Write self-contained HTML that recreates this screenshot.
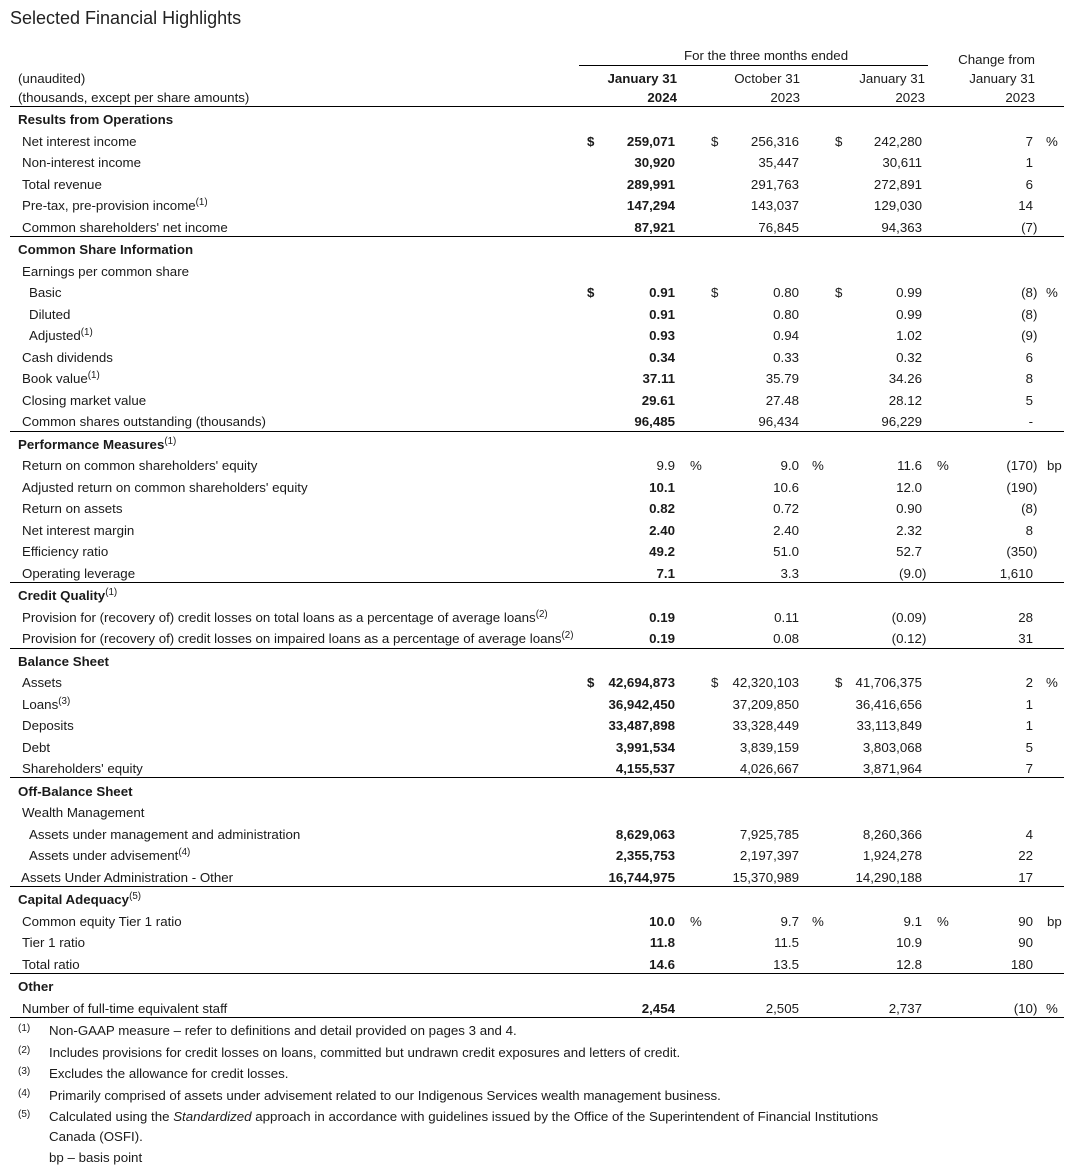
<!DOCTYPE html>
<html><head><meta charset="utf-8">
<style>
html,body{margin:0;padding:0}
body{width:1070px;height:1170px;position:relative;background:#fff;font-family:"Liberation Sans",Arial,sans-serif;font-size:13.3px;color:#1a1a1a;overflow:hidden}
.t{position:absolute;left:10px;top:7px;font-size:18px;line-height:22px;white-space:nowrap;color:#222}
.r{position:absolute;left:0;width:1070px;height:16px;line-height:16px;margin-top:1px}
.r span{position:absolute;top:0;white-space:nowrap}
.h{left:18px;font-weight:bold}
.l{left:22px}
.i{left:29px}
.d1{left:587px;font-weight:bold}
.c1{right:395px;font-weight:bold}
.p1{left:690px}
.d2{left:711px}
.c2{right:271px}
.p2{left:812px}
.d3{left:835px}
.c3{right:148px}
.p3{left:937px}
.c4{right:37px}
.p4{left:1046px}
.n{margin-right:-4.4px}
.hr{position:absolute;left:10px;width:1054px;height:1px;background:#000}
sup{font-size:9.8px;line-height:0;position:relative;top:0px;font-weight:normal}
.fm{position:absolute;left:18px;font-size:10px;line-height:12px;white-space:nowrap;margin-top:2px}
.ft{position:absolute;left:49px;line-height:16px;white-space:nowrap;margin-top:1px}
</style></head><body>
<div class="t">Selected Financial Highlights</div>

<div class="r" style="top:47px"><span style="left:684px">For the three months ended</span></div>
<div style="position:absolute;left:579px;top:65px;width:349px;height:1px;background:#000"></div>
<div class="r" style="top:51px"><span style="right:35px">Change from</span></div>
<div class="r" style="top:70px"><span style="left:18px">(unaudited)</span><span style="right:393px;font-weight:bold">January 31</span><span style="right:270px">October 31</span><span style="right:145px">January 31</span><span style="right:35px">January 31</span></div>
<div class="r" style="top:89px"><span style="left:18px">(thousands, except per share amounts)</span><span style="right:393px;font-weight:bold">2024</span><span style="right:270px">2023</span><span style="right:145px">2023</span><span style="right:35px">2023</span></div>
<div class="hr" style="top:106px"></div>

<div class="r" style="top:111px"><span class="h">Results from Operations</span></div>
<div class="r" style="top:133px"><span class="l">Net interest income</span><span class="d1">$</span><span class="c1">259,071</span><span class="d2">$</span><span class="c2">256,316</span><span class="d3">$</span><span class="c3">242,280</span><span class="c4">7</span><span class="p4">%</span></div>
<div class="r" style="top:154px"><span class="l">Non-interest income</span><span class="c1">30,920</span><span class="c2">35,447</span><span class="c3">30,611</span><span class="c4">1</span></div>
<div class="r" style="top:176px"><span class="l">Total revenue</span><span class="c1">289,991</span><span class="c2">291,763</span><span class="c3">272,891</span><span class="c4">6</span></div>
<div class="r" style="top:197px"><span class="l">Pre-tax, pre-provision income<sup>(1)</sup></span><span class="c1">147,294</span><span class="c2">143,037</span><span class="c3">129,030</span><span class="c4">14</span></div>
<div class="r" style="top:219px"><span class="l">Common shareholders' net income</span><span class="c1">87,921</span><span class="c2">76,845</span><span class="c3">94,363</span><span class="c4 n">(7)</span></div>
<div class="hr" style="top:236px"></div>

<div class="r" style="top:241px"><span class="h">Common Share Information</span></div>
<div class="r" style="top:263px"><span class="l">Earnings per common share</span></div>
<div class="r" style="top:284px"><span class="i">Basic</span><span class="d1">$</span><span class="c1">0.91</span><span class="d2">$</span><span class="c2">0.80</span><span class="d3">$</span><span class="c3">0.99</span><span class="c4 n">(8)</span><span class="p4">%</span></div>
<div class="r" style="top:306px"><span class="i">Diluted</span><span class="c1">0.91</span><span class="c2">0.80</span><span class="c3">0.99</span><span class="c4 n">(8)</span></div>
<div class="r" style="top:327px"><span class="i">Adjusted<sup>(1)</sup></span><span class="c1">0.93</span><span class="c2">0.94</span><span class="c3">1.02</span><span class="c4 n">(9)</span></div>
<div class="r" style="top:349px"><span class="l">Cash dividends</span><span class="c1">0.34</span><span class="c2">0.33</span><span class="c3">0.32</span><span class="c4">6</span></div>
<div class="r" style="top:370px"><span class="l">Book value<sup>(1)</sup></span><span class="c1">37.11</span><span class="c2">35.79</span><span class="c3">34.26</span><span class="c4">8</span></div>
<div class="r" style="top:392px"><span class="l">Closing market value</span><span class="c1">29.61</span><span class="c2">27.48</span><span class="c3">28.12</span><span class="c4">5</span></div>
<div class="r" style="top:413px"><span class="l">Common shares outstanding (thousands)</span><span class="c1">96,485</span><span class="c2">96,434</span><span class="c3">96,229</span><span class="c4">-</span></div>
<div class="hr" style="top:431px"></div>

<div class="r" style="top:436px"><span class="h">Performance Measures<sup>(1)</sup></span></div>
<div class="r" style="top:457px"><span class="l">Return on common shareholders' equity</span><span class="c1" style="font-weight:normal">9.9</span><span class="p1">%</span><span class="c2">9.0</span><span class="p2">%</span><span class="c3">11.6</span><span class="p3">%</span><span class="c4 n">(170)</span><span class="p4" style="left:1047px">bp</span></div>
<div class="r" style="top:479px"><span class="l">Adjusted return on common shareholders' equity</span><span class="c1">10.1</span><span class="c2">10.6</span><span class="c3">12.0</span><span class="c4 n">(190)</span></div>
<div class="r" style="top:500px"><span class="l">Return on assets</span><span class="c1">0.82</span><span class="c2">0.72</span><span class="c3">0.90</span><span class="c4 n">(8)</span></div>
<div class="r" style="top:522px"><span class="l">Net interest margin</span><span class="c1">2.40</span><span class="c2">2.40</span><span class="c3">2.32</span><span class="c4">8</span></div>
<div class="r" style="top:543px"><span class="l">Efficiency ratio</span><span class="c1">49.2</span><span class="c2">51.0</span><span class="c3">52.7</span><span class="c4 n">(350)</span></div>
<div class="r" style="top:565px"><span class="l">Operating leverage</span><span class="c1">7.1</span><span class="c2">3.3</span><span class="c3 n">(9.0)</span><span class="c4">1,610</span></div>
<div class="hr" style="top:582px"></div>

<div class="r" style="top:587px"><span class="h">Credit Quality<sup>(1)</sup></span></div>
<div class="r" style="top:609px"><span class="l">Provision for (recovery of) credit losses on total loans as a percentage of average loans<sup>(2)</sup></span><span class="c1">0.19</span><span class="c2">0.11</span><span class="c3 n">(0.09)</span><span class="c4">28</span></div>
<div class="r" style="top:630px"><span class="l">Provision for (recovery of) credit losses on impaired loans as a percentage of average loans<sup>(2)</sup></span><span class="c1">0.19</span><span class="c2">0.08</span><span class="c3 n">(0.12)</span><span class="c4">31</span></div>
<div class="hr" style="top:648px"></div>

<div class="r" style="top:653px"><span class="h">Balance Sheet</span></div>
<div class="r" style="top:674px"><span class="l">Assets</span><span class="d1">$</span><span class="c1">42,694,873</span><span class="d2">$</span><span class="c2">42,320,103</span><span class="d3">$</span><span class="c3">41,706,375</span><span class="c4">2</span><span class="p4">%</span></div>
<div class="r" style="top:696px"><span class="l">Loans<sup>(3)</sup></span><span class="c1">36,942,450</span><span class="c2">37,209,850</span><span class="c3">36,416,656</span><span class="c4">1</span></div>
<div class="r" style="top:717px"><span class="l">Deposits</span><span class="c1">33,487,898</span><span class="c2">33,328,449</span><span class="c3">33,113,849</span><span class="c4">1</span></div>
<div class="r" style="top:739px"><span class="l">Debt</span><span class="c1">3,991,534</span><span class="c2">3,839,159</span><span class="c3">3,803,068</span><span class="c4">5</span></div>
<div class="r" style="top:760px"><span class="l">Shareholders' equity</span><span class="c1">4,155,537</span><span class="c2">4,026,667</span><span class="c3">3,871,964</span><span class="c4">7</span></div>
<div class="hr" style="top:777px"></div>

<div class="r" style="top:783px"><span class="h">Off-Balance Sheet</span></div>
<div class="r" style="top:804px"><span class="l">Wealth Management</span></div>
<div class="r" style="top:826px"><span class="i">Assets under management and administration</span><span class="c1">8,629,063</span><span class="c2">7,925,785</span><span class="c3">8,260,366</span><span class="c4">4</span></div>
<div class="r" style="top:847px"><span class="i">Assets under advisement<sup>(4)</sup></span><span class="c1">2,355,753</span><span class="c2">2,197,397</span><span class="c3">1,924,278</span><span class="c4">22</span></div>
<div class="r" style="top:869px"><span class="l" style="left:21px">Assets Under Administration - Other</span><span class="c1">16,744,975</span><span class="c2">15,370,989</span><span class="c3">14,290,188</span><span class="c4">17</span></div>
<div class="hr" style="top:886px"></div>

<div class="r" style="top:891px"><span class="h">Capital Adequacy<sup>(5)</sup></span></div>
<div class="r" style="top:913px"><span class="l">Common equity Tier 1 ratio</span><span class="c1">10.0</span><span class="p1">%</span><span class="c2">9.7</span><span class="p2">%</span><span class="c3">9.1</span><span class="p3">%</span><span class="c4">90</span><span class="p4" style="left:1047px">bp</span></div>
<div class="r" style="top:934px"><span class="l">Tier 1 ratio</span><span class="c1">11.8</span><span class="c2">11.5</span><span class="c3">10.9</span><span class="c4">90</span></div>
<div class="r" style="top:956px"><span class="l">Total ratio</span><span class="c1">14.6</span><span class="c2">13.5</span><span class="c3">12.8</span><span class="c4">180</span></div>
<div class="hr" style="top:973px"></div>

<div class="r" style="top:978px"><span class="h">Other</span></div>
<div class="r" style="top:1000px"><span class="l">Number of full-time equivalent staff</span><span class="c1">2,454</span><span class="c2">2,505</span><span class="c3">2,737</span><span class="c4 n">(10)</span><span class="p4">%</span></div>
<div class="hr" style="top:1017px"></div>

<div class="fm" style="top:1021px">(1)</div><div class="ft" style="top:1022px">Non-GAAP measure – refer to definitions and detail provided on pages 3 and 4.</div>
<div class="fm" style="top:1043px">(2)</div><div class="ft" style="top:1044px">Includes provisions for credit losses on loans, committed but undrawn credit exposures and letters of credit.</div>
<div class="fm" style="top:1064px">(3)</div><div class="ft" style="top:1065px">Excludes the allowance for credit losses.</div>
<div class="fm" style="top:1086px">(4)</div><div class="ft" style="top:1087px">Primarily comprised of assets under advisement related to our Indigenous Services wealth management business.</div>
<div class="fm" style="top:1107px">(5)</div><div class="ft" style="top:1108px">Calculated using the <i>Standardized</i> approach in accordance with guidelines issued by the Office of the Superintendent of Financial Institutions</div>
<div class="ft" style="top:1128px">Canada (OSFI).</div>
<div class="ft" style="top:1149px">bp – basis point</div>
</body></html>
